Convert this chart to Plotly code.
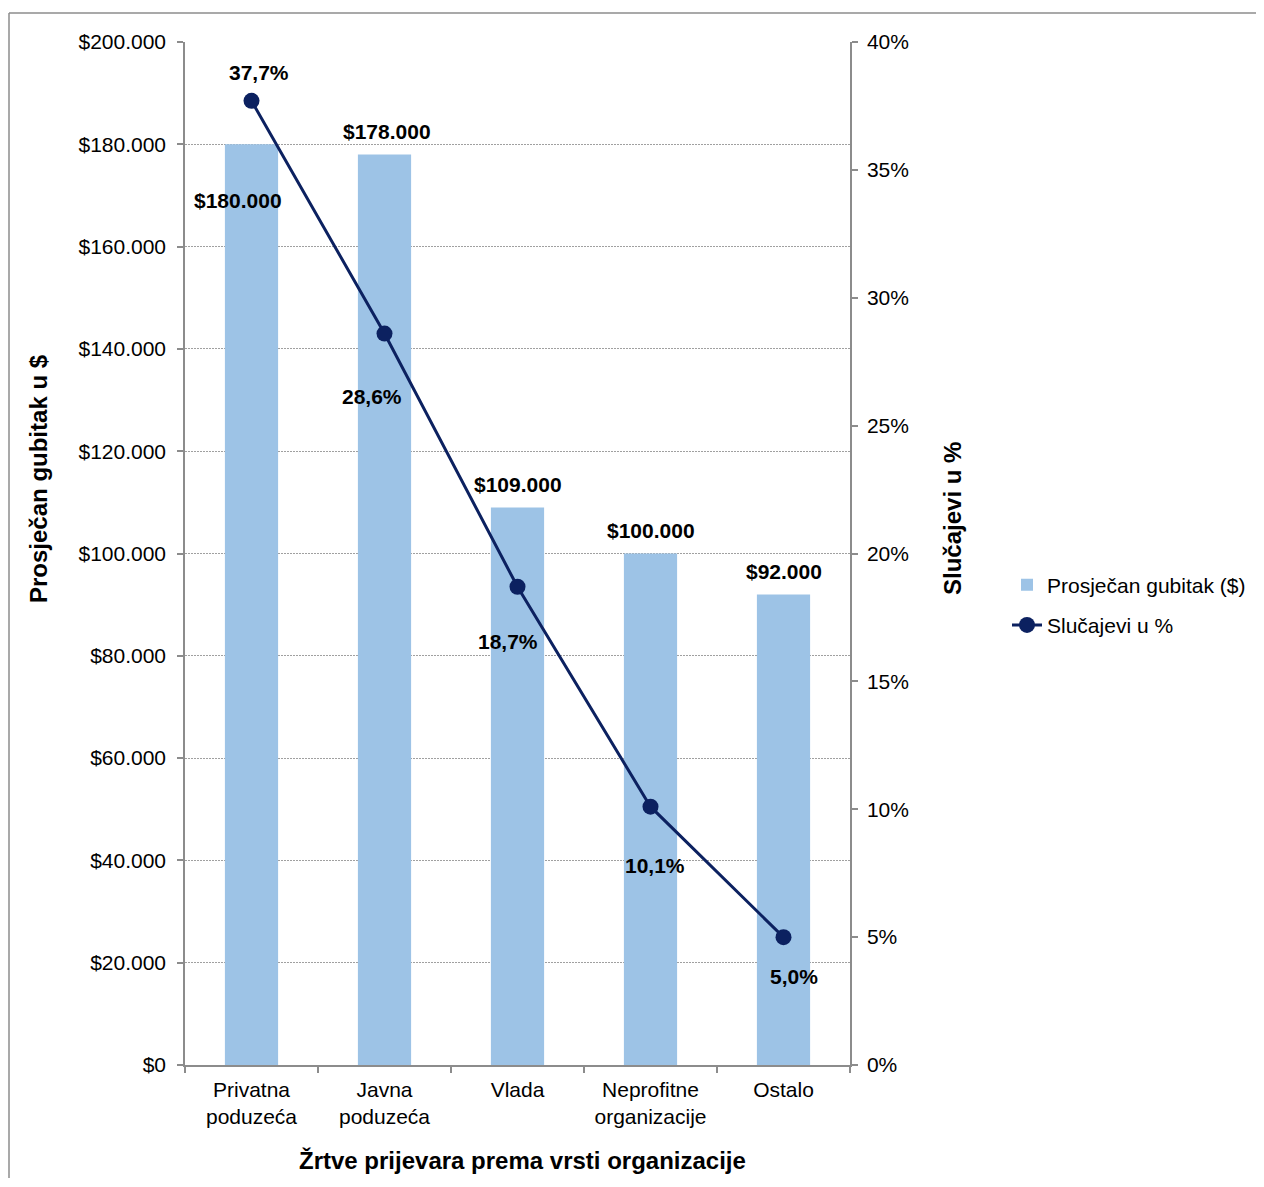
import plotly.graph_objects as go

# ---- data ----
categories = ["Privatna<br>poduzeća", "Javna<br>poduzeća", "Vlada",
              "Neprofitne<br>organizacije", "Ostalo"]
avg_loss = [180000, 178000, 109000, 100000, 92000]
avg_loss_labels = ["$180.000", "$178.000", "$109.000", "$100.000", "$92.000"]
cases_pct = [37.7, 28.6, 18.7, 10.1, 5.0]
cases_labels = ["37,7%", "28,6%", "18,7%", "10,1%", "5,0%"]

left_tickvals = [0, 20000, 40000, 60000, 80000, 100000, 120000, 140000, 160000, 180000, 200000]
left_ticktext = ["$0", "$20.000", "$40.000", "$60.000", "$80.000", "$100.000",
                 "$120.000", "$140.000", "$160.000", "$180.000", "$200.000"]
right_tickvals = [0, 5, 10, 15, 20, 25, 30, 35, 40]
right_ticktext = ["0%", "5%", "10%", "15%", "20%", "25%", "30%", "35%", "40%"]

# ---- styling (label offsets in pixels) ----
bar_label_shift = [(-14, -56), (2, 23), (0, 23), (0, 23), (0, 23)]
line_label_shift = [(7, 28), (-13, -63), (-10, -55), (4, -59), (10, -39)]

FONT = "Liberation Sans, Arial, sans-serif"
BAR_COLOR = "#9DC3E6"
LINE_COLOR = "#0C2160"
AXIS_COLOR = "#8C8C8C"
TICK_SIZE = 21
TITLE_SIZE = 24

W, H = 1256, 1170
ML, MR, MT, MB = 177, 414, 34, 113
PW = W - ML - MR
PH = H - MT - MB


def px_x(fx):
    return (fx - ML) / PW


def px_y(fy):
    return 1 - (fy - MT) / PH


fig = go.Figure()
fig.add_trace(go.Bar(
    x=categories, y=avg_loss, name="Prosječan gubitak ($)",
    marker=dict(color=BAR_COLOR, line=dict(width=0)),
    yaxis="y", legendgroup="a",
))
fig.add_trace(go.Scatter(
    x=categories, y=cases_pct, name="Slučajevi u %",
    mode="lines+markers",
    line=dict(color=LINE_COLOR, width=3),
    marker=dict(color=LINE_COLOR, size=16),
    yaxis="y2", legendgroup="b",
))

annotations = []
for c, v, t, (dx, dy) in zip(categories, avg_loss, avg_loss_labels, bar_label_shift):
    annotations.append(dict(x=c, y=v, xref="x", yref="y", text=t, showarrow=False,
                            xshift=dx, yshift=dy,
                            font=dict(family=FONT, size=TICK_SIZE, color="black", weight="bold")))
for c, v, t, (dx, dy) in zip(categories, cases_pct, cases_labels, line_label_shift):
    annotations.append(dict(x=c, y=v, xref="x", yref="y2", text=t, showarrow=False,
                            xshift=dx, yshift=dy,
                            font=dict(family=FONT, size=TICK_SIZE, color="black", weight="bold")))

# axis titles (page coords -> figure coords: minus 8px body margin)
annotations.append(dict(x=px_x(38 - 8), y=px_y(479 - 8), xref="paper", yref="paper",
                        text="<b>Prosječan gubitak u $</b>", textangle=-90, showarrow=False,
                        xanchor="center", yanchor="middle",
                        font=dict(family=FONT, size=TITLE_SIZE, color="black")))
annotations.append(dict(x=px_x(952 - 8), y=px_y(519 - 8), xref="paper", yref="paper",
                        text="<b>Slučajevi u %</b>", textangle=-90, showarrow=False,
                        xanchor="center", yanchor="middle",
                        font=dict(family=FONT, size=TITLE_SIZE, color="black")))
annotations.append(dict(x=px_x(522 - 8), y=px_y(1160 - 8), xref="paper", yref="paper",
                        text="<b>Žrtve prijevara prema vrsti organizacije</b>", showarrow=False,
                        xanchor="center", yanchor="middle",
                        font=dict(family=FONT, size=TITLE_SIZE, color="black")))

# chart-area border: only top and left edges are visible in the frame
shapes = [
    dict(type="line", xref="paper", yref="paper",
         x0=px_x(1), x1=px_x(W - 1), y0=px_y(5), y1=px_y(5),
         line=dict(color=AXIS_COLOR, width=1.5), layer="below"),
    dict(type="line", xref="paper", yref="paper",
         x0=px_x(1), x1=px_x(1), y0=px_y(5), y1=px_y(H),
         line=dict(color=AXIS_COLOR, width=1.5), layer="below"),
]

fig.update_layout(
    width=W, height=H, autosize=False,
    margin=dict(l=ML, r=MR, t=MT, b=MB, pad=0),
    paper_bgcolor="white", plot_bgcolor="white",
    font=dict(family=FONT, size=TICK_SIZE, color="black"),
    bargap=0.6,
    showlegend=True,
    legend=dict(x=px_x(1007 - 8), y=px_y(605 - 8), xanchor="left", yanchor="middle",
                font=dict(family=FONT, size=TICK_SIZE, color="black"),
                bgcolor="rgba(0,0,0,0)", tracegroupgap=10, traceorder="grouped",
                itemwidth=30, borderwidth=0),
    xaxis=dict(
        type="category", tickson="boundaries",
        showline=True, linecolor=AXIS_COLOR, linewidth=1.5,
        ticks="outside", ticklen=6, tickcolor=AXIS_COLOR, tickwidth=1.5,
        tickfont=dict(family=FONT, size=TICK_SIZE, color="black"),
        showgrid=False, zeroline=False, ticklabelstandoff=5,
    ),
    yaxis=dict(
        range=[0, 200000], tickvals=left_tickvals, ticktext=left_ticktext,
        showline=True, linecolor=AXIS_COLOR, linewidth=1.5,
        ticks="outside", ticklen=6, tickcolor=AXIS_COLOR, tickwidth=1.5,
        tickfont=dict(family=FONT, size=TICK_SIZE, color="black"),
        showgrid=True, gridcolor="#A0A0A0", gridwidth=1, griddash="2px,1px",
        zeroline=False, ticklabelstandoff=7,
    ),
    yaxis2=dict(
        range=[0, 40], tickvals=right_tickvals, ticktext=right_ticktext,
        overlaying="y", side="right",
        showline=True, linecolor=AXIS_COLOR, linewidth=1.5,
        ticks="outside", ticklen=6, tickcolor=AXIS_COLOR, tickwidth=1.5,
        tickfont=dict(family=FONT, size=TICK_SIZE, color="black"),
        showgrid=False, zeroline=False, ticklabelstandoff=5,
    ),
    annotations=annotations,
    shapes=shapes,
)

fig.write_html("out.html")
